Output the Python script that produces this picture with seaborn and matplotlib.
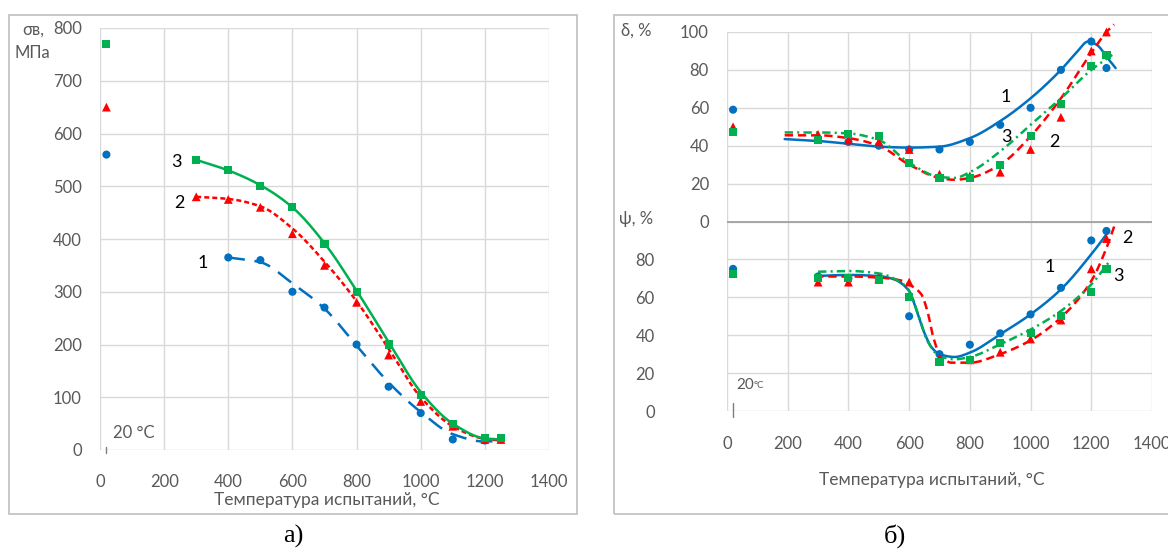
import numpy as np
import pandas as pd
import matplotlib
matplotlib.use("Agg")
import matplotlib.pyplot as plt
import seaborn as sns
from matplotlib.patches import Rectangle

# ---------------- data: panel a) tensile strength ----------------
sig_T_23 = [300, 400, 500, 600, 700, 800, 900, 1000, 1100, 1200, 1250]
sig_T_1 = [400, 500, 600, 700, 800, 900, 1000, 1100, 1200, 1250]
sig_1 = [365, 360, 300, 270, 200, 120, 70, 20, 18, 20]
sig_2 = [480, 475, 460, 410, 350, 280, 180, 92, 45, 20, 20]
sig_3 = [550, 530, 500, 460, 390, 300, 200, 105, 50, 22, 22]
sig_room = [560, 650, 770]          # at 20 °C, series 1,2,3
room_T = 20

# trend curves of panel a) (read from the picture)
sig_tr_T_23 = [300, 400, 500, 600, 700, 800, 900, 1000, 1100, 1200, 1250]
sig_tr_3 = [550, 530, 502, 460, 392, 302, 205, 110, 50, 22, 20]
sig_tr_2 = [480, 476, 462, 420, 357, 282, 192, 100, 45, 21, 18]
sig_tr_T_1 = [400, 500, 600, 700, 800, 900, 1000, 1100, 1200, 1250]
sig_tr_1 = [365, 356, 316, 268, 198, 128, 72, 30, 16, 18]

# ---------------- data: panel б) elongation δ and reduction ψ ----------------
pl_T = [300, 400, 500, 600, 700, 800, 900, 1000, 1100, 1200, 1250]
delta_1 = [43, 42, 40, 38, 38, 42, 51, 60, 80, 95, 81]
delta_2 = [46, 43, 42, 38, 25, 24, 26, 38, 55, 90, 100]
delta_3 = [43, 46, 45, 31, 23, 23, 30, 45, 62, 82, 88]
delta_room = [59, 50, 47]
psi_1 = [71, 70, 70, 50, 30, 35, 41, 51, 65, 90, 95]
psi_2 = [68, 68, 70, 68, 28, 27, 31, 38, 48, 75, 91]
psi_3 = [70, 70, 69, 60, 26, 27, 36, 41, 50, 63, 75]
psi_room = [75, 73, 72.5]

# trend curves of panel б) (read from the picture)
d_tr_T_1 = [190, 300, 400, 500, 600, 700, 800, 900, 1000, 1100, 1150, 1190, 1220, 1250, 1280]
d_tr_1 = [43.5, 42.5, 41, 39.5, 39, 39.5, 44, 53, 65, 80, 89, 95, 93, 87, 81]
d_tr_T_2 = [190, 300, 400, 500, 600, 700, 750, 800, 900, 1000, 1100, 1200, 1250, 1275]
d_tr_2 = [45.5, 45.5, 44, 40, 30, 23, 22, 23, 30, 45, 65, 89, 100, 104]
d_tr_T_3 = [190, 300, 400, 500, 600, 700, 750, 800, 900, 1000, 1100, 1200, 1270]
d_tr_3 = [47, 47, 46.5, 43, 31, 23.5, 23, 26, 37, 51, 65, 80, 88]
p_tr_T_1 = [290, 400, 500, 550, 600, 625, 650, 675, 700, 750, 800, 900, 1000, 1100, 1200, 1250]
p_tr_1 = [71.2, 71.8, 71.2, 69.5, 63.3, 52.8, 41.3, 33.4, 30, 28.5, 30.8, 40.5, 51, 64.2, 82.7, 93.2]
p_tr_T_2 = [290, 400, 500, 580, 600, 640, 660, 680, 700, 740, 800, 900, 1000, 1100, 1200, 1250, 1280]
p_tr_2 = [71, 71, 70.4, 68.6, 66.8, 61.6, 52.8, 38.7, 30, 25.5, 25.5, 30, 37.3, 49.3, 68.6, 86, 99.5]
p_tr_T_3 = [300, 400, 500, 580, 600, 630, 660, 700, 750, 800, 900, 1000, 1100, 1200, 1260]
p_tr_3 = [73.5, 73.9, 72.6, 67, 63.3, 51, 37, 29, 27.3, 28.5, 35.2, 43, 52.8, 66.8, 79]

x_ticks = [0, 200, 400, 600, 800, 1000, 1200, 1400]
sig_ticks = [0, 100, 200, 300, 400, 500, 600, 700, 800]
psi_ticks = [0, 20, 40, 60, 80]
delta_ticks = [0, 20, 40, 60, 80, 100]
DELTA_SHIFT = 100

BLUE, RED, GREEN = "#0070C0", "#FF0000", "#00B050"
GRID, TXT = "#d9d9d9", "#595959"


def smooth(x, y, n=400):
    """monotone cubic (PCHIP) rendering of a trend curve"""
    x = np.asarray(x, float)
    y = np.asarray(y, float)
    h = np.diff(x)
    d = np.diff(y) / h
    m = np.zeros_like(y)
    for k in range(1, len(x) - 1):
        if d[k - 1] * d[k] > 0:
            w1 = 2 * h[k] + h[k - 1]
            w2 = h[k] + 2 * h[k - 1]
            m[k] = (w1 + w2) / (w1 / d[k - 1] + w2 / d[k])
    m[0], m[-1] = d[0], d[-1]
    xn = np.linspace(x[0], x[-1], n)
    i = np.clip(np.searchsorted(x, xn) - 1, 0, len(h) - 1)
    t = (xn - x[i]) / h[i]
    yn = ((2 * t**3 - 3 * t**2 + 1) * y[i] + (t**3 - 2 * t**2 + t) * h[i] * m[i]
          + (-2 * t**3 + 3 * t**2) * y[i + 1] + (t**3 - t**2) * h[i] * m[i + 1])
    return xn, yn


sns.set_style("white")
plt.rcParams["font.family"] = ["Lato", "Noto Sans", "DejaVu Sans"]
plt.rcParams["lines.scale_dashes"] = False

W, H = 1168, 552
fig = plt.figure(figsize=(W / 100, H / 100), dpi=100)
fig.patch.set_facecolor("white")


def px(x, y):
    return x / W, 1 - y / H


# panel frames
for (x0, y0, x1, y1) in [(9, 15, 577, 514), (614, 15, 1190, 514)]:
    fig.patches.append(Rectangle(px(x0, y1), (x1 - x0) / W, (y1 - y0) / H,
                                 transform=fig.transFigure, fill=False,
                                 edgecolor="#bfbfbf", lw=1.2))

axL = fig.add_axes([100 / W, 1 - 450 / H, 449 / W, 422 / H])
axR = fig.add_axes([727 / W, 1 - 411 / H, 425 / W, 379 / H])

LW = 1.8


def curve(ax, x, y, color, ls, shift=0):
    xn, yn = smooth(x, y)
    df = pd.DataFrame({"T": xn, "v": yn + shift})
    sns.lineplot(data=df, x="T", y="v", ax=ax, color=color, linewidth=LW,
                 linestyle=ls, sort=False, estimator=None, errorbar=None,
                 clip_on=False, zorder=3)


def points(ax, x, y, color, marker, s, shift=0):
    df = pd.DataFrame({"T": x, "v": np.asarray(y, float) + shift})
    sns.scatterplot(data=df, x="T", y="v", ax=ax, color=color, marker=marker,
                    s=s, linewidth=0, edgecolor="none", zorder=4, clip_on=False)


# ---------------- panel a) ----------------
ax = axL
curve(ax, sig_tr_T_1, sig_tr_1, BLUE, (0, (12, 7)))
curve(ax, sig_tr_T_23, sig_tr_2, RED, (0, (3.6, 2.2)))
curve(ax, sig_tr_T_23, sig_tr_3, GREEN, "-")
points(ax, sig_T_1, sig_1, BLUE, "o", 34)
points(ax, sig_T_23, sig_2, RED, "^", 40)
points(ax, sig_T_23, sig_3, GREEN, "s", 34)
points(ax, [room_T], [sig_room[0]], BLUE, "o", 34)
points(ax, [room_T], [sig_room[1]], RED, "^", 40)
points(ax, [room_T], [sig_room[2]], GREEN, "s", 34)
ax.set_xlim(0, 1400)
ax.set_ylim(0, 800)
ax.set_xticks(x_ticks)
ax.set_yticks(sig_ticks)
ax.grid(True, color=GRID, lw=1)
ax.set_axisbelow(True)
for s in ax.spines.values():
    s.set_visible(False)
ax.tick_params(length=0, labelsize=12, labelcolor=TXT)
ax.tick_params(axis="x", pad=17)
ax.tick_params(axis="y", pad=13)
ax.set_xlabel("")
ax.set_ylabel("")
ax.axvline(room_T, ymin=-0.008, ymax=0.008, color="#7f7f7f", lw=1, clip_on=False)
ax.text(40, 32, "20 °C", fontsize=12, color=TXT, va="center", ha="left")
for lab, tx, ty in [("3", 237, 546), ("2", 249, 468), ("1", 321, 354)]:
    ax.text(tx, ty, lab, fontsize=13, color="black", ha="center", va="center")
fig.text(*px(33, 30), "σв,", fontsize=12, color=TXT, ha="center", va="center")
fig.text(*px(32, 53), "МПа", fontsize=12, color=TXT, ha="center", va="center")
fig.text(*px(327, 500), "Температура испытаний, °C", fontsize=12.5, color=TXT,
         ha="center", va="center")

# ---------------- panel б) ----------------
ax = axR
curve(ax, d_tr_T_1, d_tr_1, BLUE, "-", DELTA_SHIFT)
curve(ax, d_tr_T_2, d_tr_2, RED, (0, (6, 3.5)), DELTA_SHIFT)
curve(ax, d_tr_T_3, d_tr_3, GREEN, (0, (6, 3, 1.5, 3)), DELTA_SHIFT)
curve(ax, p_tr_T_1, p_tr_1, BLUE, "-")
curve(ax, p_tr_T_2, p_tr_2, RED, (0, (6, 3.5)))
curve(ax, p_tr_T_3, p_tr_3, GREEN, (0, (6, 3, 1.5, 3)))
for vals, room, shift in [((delta_1, delta_2, delta_3), delta_room, DELTA_SHIFT),
                          ((psi_1, psi_2, psi_3), psi_room, 0)]:
    points(ax, pl_T, vals[0], BLUE, "o", 34, shift)
    points(ax, pl_T, vals[1], RED, "^", 40, shift)
    points(ax, pl_T, vals[2], GREEN, "s", 34, shift)
    points(ax, [room_T], [room[0]], BLUE, "o", 34, shift)
    points(ax, [room_T], [room[1]], RED, "^", 40, shift)
    points(ax, [room_T], [room[2]], GREEN, "s", 34, shift)
ax.set_xlim(0, 1400)
ax.set_ylim(0, 200)
ax.set_xticks(x_ticks)
yt = psi_ticks + [v + DELTA_SHIFT for v in delta_ticks]
ax.set_yticks(yt)
ax.set_yticklabels([str(v) for v in psi_ticks] + [str(v) for v in delta_ticks])
ax.grid(True, color=GRID, lw=1)
ax.set_axisbelow(True)
ax.axhline(DELTA_SHIFT, color="#a6a6a6", lw=1.4, zorder=1)
for s in ax.spines.values():
    s.set_visible(False)
ax.tick_params(length=0, labelsize=12, labelcolor=TXT)
ax.tick_params(axis="x", pad=18)
for tick, v in zip(ax.yaxis.get_major_ticks(), yt):
    tick.set_pad(13 if v >= DELTA_SHIFT else 52)
ax.set_xlabel("")
ax.set_ylabel("")
ax.axvline(room_T, ymin=-0.015, ymax=0.02, color="#7f7f7f", lw=1, clip_on=False)
ax.text(30, 13.7, "20", fontsize=11, color=TXT, va="center", ha="left")
ax.text(88, 13.7, "°C", fontsize=7, color=TXT, va="center", ha="left")
for lab, tx, ty in [("1", 919, 165.7), ("3", 922, 144.6), ("2", 1080, 142),
                    ("2", 1318, 91.3), ("1", 1064, 76), ("3", 1291, 71.2)]:
    ax.text(tx, ty, lab, fontsize=13, color="black", ha="center", va="center")
fig.text(*px(636, 31), "δ, %", fontsize=12, color=TXT, ha="center", va="center")
fig.text(*px(636, 219), "ψ, %", fontsize=12, color=TXT, ha="center", va="center")
fig.text(*px(932, 480), "Температура испытаний, °C", fontsize=12.5, color=TXT,
         ha="center", va="center")

# panel captions
fig.text(*px(293, 536), "а)", fontsize=19, family="Liberation Serif",
         color="black", ha="center", va="center")
fig.text(*px(895, 536), "б)", fontsize=19, family="Liberation Serif",
         color="black", ha="center", va="center")

fig.savefig("out.png", dpi=100, facecolor="white")
